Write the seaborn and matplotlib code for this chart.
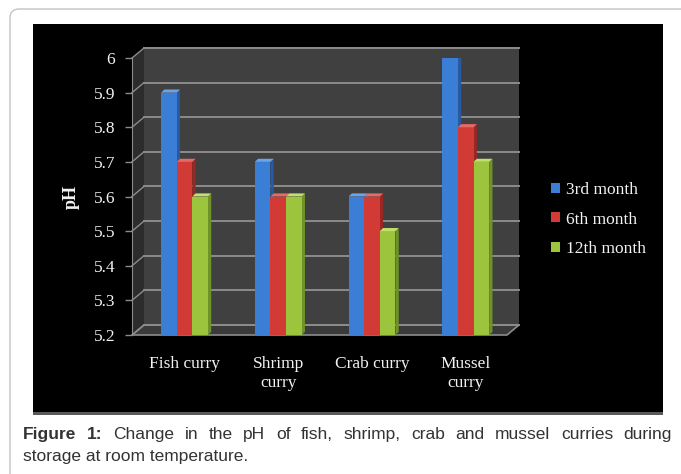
import numpy as np
import pandas as pd
import matplotlib
matplotlib.use('Agg')
import matplotlib.pyplot as plt
from matplotlib.patches import Polygon, Rectangle, FancyBboxPatch
from matplotlib.ticker import FuncFormatter
import seaborn as sns

# datos
productos = ["Fish curry", "Shrimp\ncurry", "Crab curry", "Mussel\ncurry"]
meses = ["3rd month", "6th month", "12th month"]
ph_3 = [5.9, 5.7, 5.6, 6.0]
ph_6 = [5.7, 5.6, 5.6, 5.8]
ph_12 = [5.6, 5.6, 5.5, 5.7]
yticks = [5.2, 5.3, 5.4, 5.5, 5.6, 5.7, 5.8, 5.9, 6.0]

colores = ['#3b7ed6', '#d23a36', '#9cc43c']
lados = ['#275aa0', '#9a2724', '#6f932a']
topes = ['#6ea3ea', '#e86a64', '#bfe06a']

df = pd.DataFrame({'producto': productos * 3,
                   'mes': np.repeat(meses, len(productos)),
                   'ph': ph_3 + ph_6 + ph_12})

W, H = 681, 474
fig = plt.figure(figsize=(W / 100, H / 100), dpi=100, facecolor='white')

def fx(px):
    return px / W

def fy(py):
    return 1 - py / H

# marco exterior y panel negro
fig.add_artist(FancyBboxPatch((0.10, -0.3), 7.2, 4.95,
                              boxstyle='round,pad=0,rounding_size=0.09',
                              transform=fig.dpi_scale_trans, facecolor='none',
                              edgecolor='#c4c4c4', lw=1.0, zorder=0))
fig.add_artist(Rectangle((fx(33), fy(415)), fx(630), 3 / H, transform=fig.transFigure,
                         facecolor='#5a5a5a', edgecolor='none', zorder=0))
fig.add_artist(Rectangle((fx(33), fy(412)), fx(630), 388 / H, transform=fig.transFigure,
                         facecolor='black', edgecolor='none', zorder=0))

ax = fig.add_axes([fx(132), fy(335), fx(375), 277 / H])
ax.set_facecolor('none')

sns.barplot(data=df, x='producto', y='ph', hue='mes', palette=colores, width=0.5,
            gap=0, saturation=1, linewidth=0, ax=ax, zorder=3)
barras = [p for p in ax.patches if p.get_height() > 0]

x0, x1 = -0.56, 3.44
y0, y1 = 5.2, 6.0
ax.set_xlim(x0, x1)
ax.set_ylim(y0, y1)

# pared del fondo, piso y pared izquierda (efecto 3D)
dx, dy = 0.128, 0.0289
ax.add_patch(Polygon([(x0 + dx, y0 + dy), (x1 + dx, y0 + dy), (x1 + dx, y1 + dy), (x0 + dx, y1 + dy)],
                     closed=True, facecolor='#404040', edgecolor='none', zorder=0, clip_on=False))
ax.add_patch(Polygon([(x0, y0), (x0 + dx, y0 + dy), (x0 + dx, y1 + dy), (x0, y1)],
                     closed=True, facecolor='#2c2c2c', edgecolor='none', zorder=0, clip_on=False))
ax.add_patch(Polygon([(x0, y0), (x1, y0), (x1 + dx, y0 + dy), (x0 + dx, y0 + dy)],
                     closed=True, facecolor='#3a3a3a', edgecolor='#8c8c8c', lw=1.2, zorder=1, clip_on=False))
for v in yticks:
    ax.plot([x0 + dx, x1 + dx], [v + dy, v + dy], color='#8c8c8c', lw=1.4, zorder=1, clip_on=False)
    ax.plot([x0, x0 + dx], [v, v + dy], color='#8c8c8c', lw=1.0, zorder=1, clip_on=False)

# caras laterales y superiores de las barras
bx, by = 0.035, 0.009
for i, p in enumerate(barras):
    k = i // len(productos)
    x, w, h = p.get_x(), p.get_width(), p.get_height()
    ax.add_patch(Polygon([(x + w, y0), (x + w + bx, y0 + by), (x + w + bx, h + by), (x + w, h)],
                         closed=True, facecolor=lados[k], edgecolor='none', zorder=2))
    ax.add_patch(Polygon([(x, h), (x + w, h), (x + w + bx, h + by), (x + bx, h + by)],
                         closed=True, facecolor=topes[k], edgecolor='none', zorder=4))

# ejes
ax.set_yticks(yticks)
ax.yaxis.set_major_formatter(FuncFormatter(lambda v, pos: f'{v:g}'))
ax.tick_params(axis='y', colors='#8c8c8c', length=5, width=1, pad=7,
               labelcolor='#f2f2f2', labelsize=12.5)
ax.tick_params(axis='x', length=0, pad=15, labelcolor='#f2f2f2', labelsize=12.5)
for t in ax.get_xticklabels() + ax.get_yticklabels():
    t.set_fontfamily('Liberation Serif')
for t in ax.get_xticklabels():
    t.set_linespacing(1.25)
for s in ['top', 'right', 'bottom']:
    ax.spines[s].set_visible(False)
ax.spines['left'].set_color('#8c8c8c')
ax.set_xlabel('')
ax.set_ylabel('pH', color='#f2f2f2', fontsize=13, fontweight='bold', fontfamily='Liberation Serif')
ax.yaxis.set_label_coords(-0.138, 0.5)

handles, labels = ax.get_legend_handles_labels()
ax.legend(handles, labels, loc='upper left', bbox_to_anchor=(fx(551), fy(182)),
          bbox_transform=fig.transFigure, frameon=False, borderpad=0, borderaxespad=0,
          handlelength=0.5, handleheight=0.5, handletextpad=0.35, labelspacing=0.78,
          labelcolor='#f2f2f2', prop={'family': 'Liberation Serif', 'size': 12.5})

# leyenda de la figura (texto justificado)
fig.canvas.draw()
rend = fig.canvas.get_renderer()
palabras = [('Figure', 'bold'), ('1:', 'bold'), ('Change', 'normal'), ('in', 'normal'),
            ('the', 'normal'), ('pH', 'normal'), ('of', 'normal'), ('fish,', 'normal'),
            ('shrimp,', 'normal'), ('crab', 'normal'), ('and', 'normal'), ('mussel', 'normal'),
            ('curries', 'normal'), ('during', 'normal')]
textos = []
for pal, peso in palabras:
    t = fig.text(0, fy(439), pal, fontsize=12.5, fontweight=peso, color='#333333',
                 fontfamily='Liberation Sans', va='baseline', ha='left')
    textos.append(t)
anchos = [t.get_window_extent(rend).width for t in textos]
hueco = (672 - 23 - sum(anchos)) / (len(textos) - 1)
xp = 23
for t, a in zip(textos, anchos):
    t.set_x(fx(xp))
    xp += a + hueco
fig.text(fx(23), fy(461), 'storage at room temperature.', fontsize=12.5, color='#333333',
         fontfamily='Liberation Sans', va='baseline', ha='left')

fig.savefig('out.png', dpi=100, facecolor='white')
